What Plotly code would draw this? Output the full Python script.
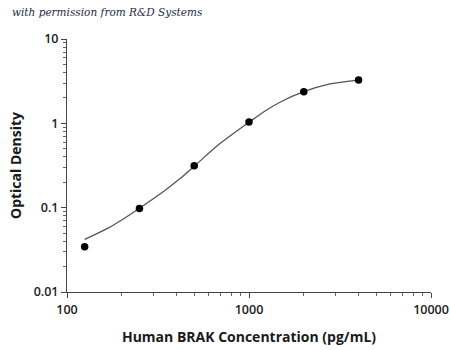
import plotly.graph_objects as go

# Standard points
conc = [125, 250, 500, 1000, 2000, 4000]
od = [0.0344, 0.098, 0.314, 1.036, 2.37, 3.27]

# Fitted curve
curve_x = [125, 169, 200, 250, 345, 418, 500, 693, 1000, 1250, 1479, 2000, 2786, 4000]
curve_y = [0.042, 0.0575, 0.0715, 0.0985, 0.16, 0.221, 0.31, 0.575, 1.03, 1.44, 1.78, 2.37, 2.93, 3.26]

x_ticks = [100, 1000, 10000]
x_labels = ["100", "1000", "10000"]
y_ticks = [0.01, 0.1, 1, 10]
y_labels = ["0.01", "0.1", "1", "10"]

font_fam = "Open Sans, Liberation Sans, Arial, sans-serif"

fig = go.Figure()
fig.add_trace(go.Scatter(x=curve_x, y=curve_y, mode="lines",
                         line=dict(color="#555555", width=1.3, shape="spline", smoothing=1.0),
                         hoverinfo="skip", showlegend=False))
fig.add_trace(go.Scatter(x=conc, y=od, mode="markers",
                         marker=dict(color="black", size=7.5),
                         showlegend=False))

fig.update_layout(
    width=450, height=350,
    margin=dict(l=67, r=19, t=39, b=58, autoexpand=False),
    paper_bgcolor="white", plot_bgcolor="white",
    font=dict(family=font_fam, color="#1a1a1a"),
    annotations=[dict(text="with permission from R&amp;D Systems", xref="paper", yref="paper",
                      x=-0.157, y=1.105, xanchor="left", yanchor="middle", showarrow=False,
                      font=dict(family="DejaVu Serif, Liberation Serif, serif", size=10.5,
                                color="#1c2a4a", style="italic"))],
)
fig.update_xaxes(type="log", range=[2, 4], tickvals=x_ticks, ticktext=x_labels,
                 showline=True, linecolor="#444", linewidth=1, showgrid=False, zeroline=False,
                 ticks="outside", ticklen=5, tickcolor="#444", ticklabelstandoff=1,
                 minor=dict(ticks="outside", ticklen=3, tickcolor="#666", dtick="D1", showgrid=False),
                 tickfont=dict(size=12.5, weight=600), automargin=False,
                 title=dict(text="Human BRAK Concentration (pg/mL)", font=dict(size=14, weight=700), standoff=15))
fig.update_yaxes(type="log", range=[-2, 1], tickvals=y_ticks, ticktext=y_labels,
                 showline=True, linecolor="#444", linewidth=1, showgrid=False, zeroline=False,
                 ticks="outside", ticklen=5, tickcolor="#444",
                 minor=dict(ticks="outside", ticklen=3, tickcolor="#666", dtick="D1", showgrid=False),
                 tickfont=dict(size=12.5, weight=600), automargin=False,
                 title=dict(text="Optical Density", font=dict(size=14, weight=700), standoff=8))

fig.write_html("out.html")
